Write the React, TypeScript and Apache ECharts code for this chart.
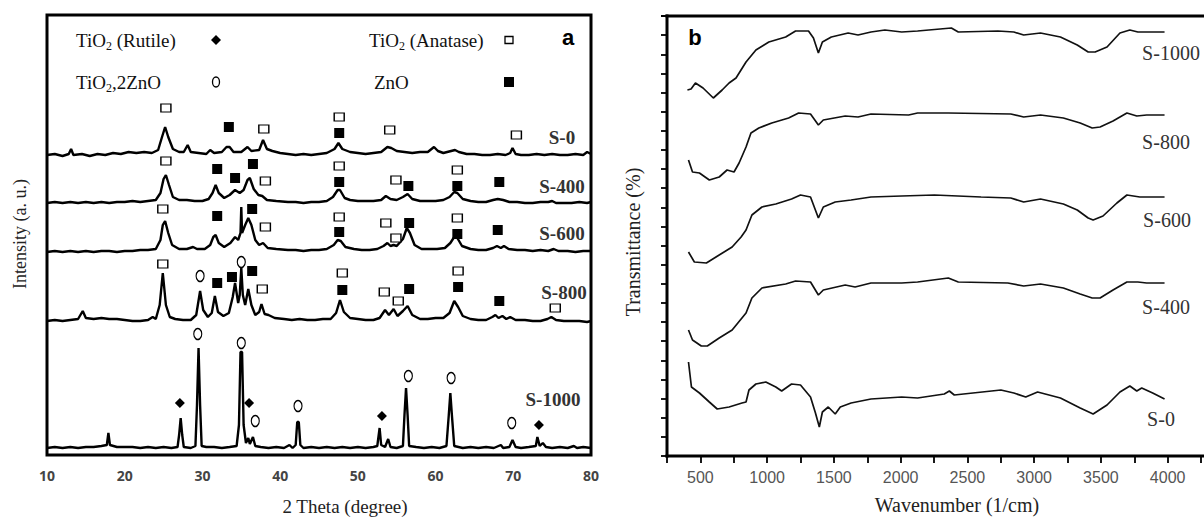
import React, { useEffect, useRef } from 'react';
import * as echarts from 'echarts';

// ---------- Panel a: XRD patterns (2θ, intensity a.u.) ----------
const xrdS0 = [[10,300],[11,301],[12,299],[12.8,301],[13.1,306],[13.4,300],[14.5,301],[15.5,299],[16.5,301],[17.5,300],[18.5,302],[19.5,301],[20.5,303],[21.5,302],[22.5,303],[23.5,302],[24.3,305],[24.8,318],[25.2,328],[25.6,318],[26.2,306],[27,303],[27.6,303],[28.1,310],[28.5,303],[29.5,302],[30.5,301],[31,305],[31.5,302],[32.5,303],[33.1,308],[33.5,308],[34,303],[35,303],[35.8,308],[36.3,304],[37.3,305],[37.8,315],[38.3,306],[39,304],[40,302],[41,301],[42,300],[43,301],[44,300],[45,301],[46,302],[47,306],[47.5,312],[48,306],[49,303],[50,302],[51,301],[52,302],[53,303],[53.8,308],[54.3,307],[55,304],[56,303],[57,302],[58,303],[59,303],[59.8,308],[60.3,304],[61,302],[62,304],[62.5,305],[63,303],[64,301],[65,301],[66,300],[67,300],[68,301],[69,300],[69.6,302],[69.9,307],[70.3,301],[71,300],[72,300],[73,301],[74,300],[75,301],[76,300],[77,300],[78,301],[79,300],[79.5,303],[80,301]];
const xrdS400 = [[10,252],[11,253],[12,252],[13,253],[14,252],[15,253],[16,252],[17,253],[18,252],[19,253],[20,253],[21,254],[22,253],[23,254],[24,255],[24.6,262],[25.0,276],[25.3,280],[25.7,270],[26.2,258],[27,255],[28,255],[29,254],[30,254],[30.8,256],[31.3,262],[31.7,270],[32.1,262],[32.8,257],[33.5,260],[34.2,265],[34.8,262],[35.3,265],[35.8,275],[36.1,277],[36.6,266],[37.2,260],[37.7,259],[38.3,255],[39.5,254],[41,253],[42,253],[43,252],[44,253],[45,253],[46,254],[46.8,258],[47.4,265],[47.7,265],[48.3,257],[49,255],[50,254],[51,254],[52,254],[53,255],[53.6,259],[54.2,256],[55,255],[55.8,258],[56.4,261],[57,256],[58,254],[59,254],[60,254],[61,255],[61.8,258],[62.4,263],[62.8,262],[63.5,256],[64.5,254],[65.5,253],[66.5,253],[67.4,255],[68,256],[68.7,255],[69.5,253],[70.5,253],[71.5,252],[72.5,252],[73.5,253],[74.5,253],[75,254],[75.5,252],[76.5,252],[77.5,252],[78.5,253],[79.5,252],[80,253]];
const xrdS600 = [[10,203],[11,204],[12,203],[13,204],[14,203],[15,204],[16,203],[17,204],[18,204],[19,203],[20,204],[21,204],[22,205],[23,205],[24,206],[24.6,215],[24.9,230],[25.2,234],[25.6,222],[26.1,210],[27,206],[28,206],[28.8,208],[29.3,206],[30.3,206],[31,210],[31.4,218],[31.7,220],[32.1,212],[32.8,208],[33.6,212],[34.2,218],[34.6,215],[34.9,222],[35.0,248],[35.1,222],[35.5,230],[35.9,237],[36.3,230],[36.8,215],[37.3,210],[37.8,212],[38.4,207],[39.5,206],[41,205],[42,205],[43,204],[44,205],[45,205],[46,206],[46.9,210],[47.4,215],[47.8,214],[48.4,208],[49.5,206],[50.5,205],[51.5,205],[52.5,206],[53.3,209],[53.8,212],[54.2,209],[54.6,210],[55,209],[55.8,216],[56.3,227],[56.7,222],[57.3,210],[58.2,206],[59.2,206],[60.2,206],[61.2,207],[61.9,212],[62.4,218],[62.8,217],[63.4,209],[64.5,206],[65.5,205],[66.5,205],[67.4,207],[67.9,209],[68.4,207],[68.8,209],[69.4,206],[70.5,205],[71.5,205],[72.5,204],[73.5,205],[74.5,204],[75.2,206],[75.8,204],[77,204],[78,203],[79,204],[80,204]];
const xrdS800 = [[10,134],[11,135],[12,134],[13,135],[14,136],[14.6,144],[15,137],[16,136],[17,137],[18,136],[19,136],[20,135],[21,134],[22,134],[23,135],[23.6,138],[24,136],[24.5,150],[24.9,182],[25.3,150],[25.8,138],[26.5,136],[27.5,135],[28.5,135],[29.2,140],[29.7,164],[30.1,145],[30.7,138],[31.2,142],[31.6,159],[32,143],[32.7,139],[33.4,142],[33.9,158],[34.2,172],[34.6,152],[34.8,160],[35.0,187],[35.2,160],[35.5,150],[35.9,166],[36.3,150],[36.8,140],[37.3,143],[37.6,151],[38,141],[38.5,140],[39.3,137],[40.5,136],[41.5,135],[42.5,136],[43.5,135],[44.5,135],[45.5,136],[46.5,136],[47.2,142],[47.7,155],[48.2,143],[49,137],[50,136],[51,135],[52,135],[52.8,137],[53.5,145],[54,140],[54.6,146],[55.1,139],[55.8,144],[56.4,149],[57,140],[58,136],[59,136],[60,137],[61,137],[61.8,142],[62.4,154],[62.9,148],[63.5,139],[64.5,136],[65.5,135],[66.5,135],[67.3,138],[67.7,140],[68.1,137],[68.6,139],[69.1,136],[69.6,138],[70.3,135],[71.5,135],[72.5,134],[73.5,134],[74.4,136],[74.9,138],[75.5,135],[76.5,134],[77.5,134],[78.5,134],[79.5,133],[80,134]];
const xrdS1000 = [[10,7],[11,8],[12,7],[13,8],[14,7],[15,8],[16,8],[17,9],[17.7,10],[17.9,22],[18.1,10],[19,8],[20,8],[21,8],[22,7],[23,8],[24,7],[25,8],[26,7],[26.8,8],[27.0,20],[27.2,37],[27.4,20],[27.6,8],[28.5,7],[29.1,9],[29.3,50],[29.5,107],[29.7,50],[29.9,9],[30.5,8],[31.5,8],[32.5,7],[33.5,8],[34.4,9],[34.7,30],[34.9,103],[35.1,103],[35.3,30],[35.6,12],[35.9,17],[36.1,11],[36.5,18],[36.8,9],[37.5,8],[38.5,7],[39.5,8],[40.5,7],[41.2,10],[41.6,7],[42.0,10],[42.2,33],[42.4,33],[42.6,10],[43,7],[44,8],[45,7],[46,8],[47,7],[48,8],[49,7],[50,8],[51,7],[52,8],[52.5,9],[52.8,27],[53.0,10],[53.5,8],[53.9,16],[54.2,8],[55,7],[55.8,9],[56.0,40],[56.2,67],[56.4,40],[56.6,9],[57.5,8],[58.5,7],[59.5,8],[60.5,7],[61.4,9],[61.7,40],[61.9,62],[62.1,40],[62.4,9],[63.5,7],[64.5,8],[65.5,7],[66.5,8],[67.5,7],[68.4,10],[68.7,7],[69.5,8],[69.9,15],[70.3,8],[71,7],[72,8],[72.9,9],[73.1,18],[73.4,9],[73.8,12],[74.2,8],[75,7],[76,8],[77,7],[77.8,9],[78.2,7],[79,8],[80,7]];

// phase markers (2θ, intensity a.u.)
const anataseMarks = [[25.3,347],[37.9,326],[47.6,338],[54.1,325],[70.4,320],[25.3,294],[38.1,274],[47.6,289],[54.9,275],[62.8,285],[24.9,246],[38.1,228],[47.6,238],[53.6,232],[54.9,217],[62.8,237],[24.9,191],[37.7,166],[48.0,182],[53.4,163],[55.2,154],[62.9,184],[75.4,147]];
const znoMarks = [[33.4,328],[47.6,322],[31.9,286],[34.2,277],[36.5,291],[47.6,273],[56.5,269],[62.8,269],[68.2,273],[31.9,239],[36.4,246],[47.6,223],[56.6,232],[62.8,221],[68.0,225],[31.9,172],[33.8,178],[36.4,184],[48.0,165],[56.6,166],[62.9,168],[68.2,154]];
const rutileMarks = [[27.1,52],[36.0,52],[53.1,39],[73.3,30]];
const zn2tio4Marks = [[29.7,179],[35.0,193],[29.4,121],[35.0,112],[36.8,34],[42.3,49],[56.5,79],[62.0,77],[69.8,32]];

const xrdTicks = [10, 20, 30, 40, 50, 60, 70, 80];
const xrdSamples = ['S-0', 'S-400', 'S-600', 'S-800', 'S-1000'];

// ---------- Panel b: FTIR spectra (wavenumber, transmittance a.u.) ----------
const ftirS1000 = [[403,366],[430,367],[463,373],[520,368],[597,358],[663,366],[715,373],[767,378],[842,394],[916,406],[1013,414],[1139,419],[1213,425],[1310,425],[1347,418],[1384,403],[1414,414],[1481,419],[1607,423],[1681,421],[1778,424],[1882,426],[2008,424],[2127,425],[2380,428],[2432,424],[2729,425],[2848,424],[2922,421],[3048,423],[3197,419],[3323,411],[3405,404],[3457,404],[3546,409],[3643,423],[3717,426],[3777,424],[3843,424],[3977,424]];
const ftirS800 = [[411,296],[441,284],[493,283],[567,276],[641,279],[700,286],[752,284],[790,293],[842,309],[879,323],[938,328],[1035,333],[1161,338],[1236,343],[1325,342],[1384,331],[1421,336],[1585,340],[1681,339],[1778,342],[2060,341],[2127,343],[2357,343],[2825,342],[2922,339],[3048,341],[3219,338],[3345,333],[3435,328],[3494,329],[3591,335],[3695,343],[3769,340],[3843,341],[3977,341]];
const ftirS600 = [[411,204],[455,194],[545,193],[641,201],[738,209],[805,219],[842,226],[886,241],[961,249],[1065,252],[1183,257],[1250,261],[1325,259],[1384,238],[1421,249],[1510,254],[1629,256],[1778,259],[2008,260],[2253,261],[2603,259],[2825,258],[2922,254],[3048,257],[3219,252],[3323,246],[3405,238],[3442,236],[3516,240],[3620,253],[3695,261],[3792,259],[3977,259]];
const ftirS400 = [[411,126],[441,116],[507,110],[552,110],[641,118],[738,126],[842,143],[886,158],[961,168],[1139,172],[1213,175],[1325,174],[1384,161],[1421,166],[1585,171],[1659,169],[1778,173],[2008,173],[2127,174],[2357,178],[2432,174],[2803,173],[2922,170],[3048,172],[3219,168],[3345,162],[3435,158],[3494,158],[3591,166],[3695,174],[3777,174],[3843,173],[3977,173]];
const ftirS0 = [[411,94],[433,69],[493,63],[567,54],[626,47],[715,49],[812,53],[842,54],[864,66],[916,72],[990,74],[1065,69],[1109,65],[1183,72],[1250,71],[1325,59],[1362,43],[1391,29],[1414,44],[1458,49],[1510,42],[1548,49],[1629,53],[1778,57],[2008,59],[2127,58],[2327,62],[2365,65],[2402,61],[2751,66],[2848,63],[2937,59],[3026,64],[3197,58],[3345,48],[3442,42],[3546,51],[3643,64],[3717,70],[3769,65],[3806,68],[3888,63],[3977,57]];

const SERIF = '"Liberation Serif", "DejaVu Serif", serif';
const SANS = '"Liberation Sans", Arial, sans-serif';

function sub(label: string, rest: string) {
  return `{t|${label}}{s|2}{t|${rest}}`;
}
const richSub = {
  t: { fontSize: 19, fontFamily: SERIF, fill: '#111', lineHeight: 24, verticalAlign: 'middle' },
  s: { fontSize: 12, fontFamily: SERIF, fill: '#111', lineHeight: 24, padding: [11, 0, 0, 0], verticalAlign: 'middle' },
};

export default function App() {
  const ref = useRef<HTMLDivElement>(null);
  useEffect(() => {
    const chart = echarts.init(ref.current!, null, { renderer: 'svg' });
    const lineStyleA = { color: '#000', width: 2.4 };
    const lineStyleB = { color: '#111', width: 1.7 };
    const xrdData = [xrdS0, xrdS400, xrdS600, xrdS800, xrdS1000];
    const ftirData = [ftirS0, ftirS400, ftirS600, ftirS800, ftirS1000];

    const leftLabels = [
      { t: 'S-0', x: 562, y: 137 },
      { t: 'S-400', x: 562, y: 186 },
      { t: 'S-600', x: 562, y: 233 },
      { t: 'S-800', x: 564, y: 292 },
      { t: 'S-1000', x: 553, y: 399 },
    ];
    const rightLabels = [
      { t: 'S-0', x: 1161, y: 419 },
      { t: 'S-400', x: 1166, y: 307 },
      { t: 'S-600', x: 1167, y: 220 },
      { t: 'S-800', x: 1166, y: 142 },
      { t: 'S-1000', x: 1171, y: 53 },
    ];
    const frameB = { stroke: '#000', lineWidth: 3 };

    const option: any = {
      animation: false,
      backgroundColor: '#fff',
      grid: [
        { left: 47, top: 15, width: 544, height: 440, show: true, borderColor: '#000', borderWidth: 3 },
        { left: 667, top: 16, width: 539, height: 440, show: false },
      ],
      xAxis: [
        {
          gridIndex: 0, type: 'value', min: 10, max: 80, interval: 10,
          axisLine: { show: false }, axisTick: { show: false }, splitLine: { show: false },
          axisLabel: { color: '#444', fontWeight: 'bold', fontSize: 14, fontFamily: '"Open Sans", sans-serif', margin: 13,
            formatter: (v: number) => (xrdTicks.includes(v) ? String(v) : '') },
        },
        {
          gridIndex: 1, type: 'value', min: 250, max: 4250, interval: 250,
          axisLine: { show: false },
          axisTick: { show: true, inside: false, length: 7, lineStyle: { color: '#000', width: 1.8 } },
          splitLine: { show: false },
          axisLabel: { color: '#555', fontSize: 16, fontFamily: SANS, margin: 13,
            formatter: (v: number) => (v % 500 === 0 ? String(v) : '') },
        },
      ],
      yAxis: [
        { gridIndex: 0, type: 'value', min: 0, max: 440, axisLine: { show: false }, axisTick: { show: false }, axisLabel: { show: false }, splitLine: { show: false } },
        {
          gridIndex: 1, type: 'value', min: 0, max: 440, interval: 440 / 23,
          axisLine: { show: false },
          axisTick: { show: true, inside: false, length: 6, lineStyle: { color: '#000', width: 1.8 } },
          axisLabel: { show: false }, splitLine: { show: false },
        },
      ],
      series: [
        ...xrdData.map((d, i) => ({
          name: xrdSamples[i], type: 'line', xAxisIndex: 0, yAxisIndex: 0, data: d,
          showSymbol: false, symbol: 'none', lineStyle: lineStyleA, silent: true,
        })),
        ...ftirData.map((d, i) => ({
          name: 'ftir-' + xrdSamples[i], type: 'line', xAxisIndex: 1, yAxisIndex: 1, data: d,
          showSymbol: false, symbol: 'none', lineStyle: lineStyleB, silent: true,
        })),
        { type: 'scatter', xAxisIndex: 0, yAxisIndex: 0, data: anataseMarks, symbol: 'rect', symbolSize: [10, 8],
          itemStyle: { color: '#fff', borderColor: '#000', borderWidth: 1.3, opacity: 1 }, z: 5, silent: true },
        { type: 'scatter', xAxisIndex: 0, yAxisIndex: 0, data: znoMarks, symbol: 'rect', symbolSize: [10, 10],
          itemStyle: { color: '#000', opacity: 1 }, z: 5, silent: true },
        { type: 'scatter', xAxisIndex: 0, yAxisIndex: 0, data: rutileMarks, symbol: 'diamond', symbolSize: [10, 10],
          itemStyle: { color: '#000', opacity: 1 }, z: 5, silent: true },
        { type: 'scatter', xAxisIndex: 0, yAxisIndex: 0, data: zn2tio4Marks, symbol: 'circle', symbolSize: [8, 11],
          itemStyle: { color: '#fff', borderColor: '#000', borderWidth: 1.3, opacity: 1 }, z: 5, silent: true },
      ],
      graphic: [
        // frame of panel b (top, left, bottom)
        { type: 'line', shape: { x1: 665.5, y1: 16, x2: 1204, y2: 16 }, style: frameB, z: 10 },
        { type: 'line', shape: { x1: 667, y1: 14.5, x2: 667, y2: 457.5 }, style: frameB, z: 10 },
        { type: 'line', shape: { x1: 665.5, y1: 456, x2: 1204, y2: 456 }, style: frameB, z: 10 },
        // legend of panel a
        { type: 'text', x: 76, y: 40, style: { text: sub('TiO', ' (Rutile)'), rich: richSub, verticalAlign: 'middle' } },
        { type: 'text', x: 76, y: 82, style: { text: sub('TiO', ',2ZnO'), rich: richSub, verticalAlign: 'middle' } },
        { type: 'text', x: 369, y: 40, style: { text: sub('TiO', ' (Anatase)'), rich: richSub, verticalAlign: 'middle' } },
        { type: 'text', x: 374, y: 82, style: { text: 'ZnO', font: `19px ${SERIF}`, fill: '#111', verticalAlign: 'middle' } },
        { type: 'polygon', shape: { points: [[216, 35], [221, 40], [216, 45], [211, 40]] }, style: { fill: '#000' } },
        { type: 'ellipse', shape: { cx: 216, cy: 82, rx: 3.5, ry: 5 }, style: { fill: '#fff', stroke: '#000', lineWidth: 1.3 } },
        { type: 'rect', shape: { x: 505, y: 36.5, width: 8, height: 7 }, style: { fill: '#fff', stroke: '#000', lineWidth: 1.3 } },
        { type: 'rect', shape: { x: 504, y: 77, width: 10, height: 10 }, style: { fill: '#000' } },
        // panel letters
        { type: 'text', x: 568, y: 37, style: { text: 'a', font: `bold 22px ${SANS}`, fill: '#000', align: 'center', verticalAlign: 'middle' } },
        { type: 'text', x: 695, y: 37, style: { text: 'b', font: `bold 22px ${SANS}`, fill: '#000', align: 'center', verticalAlign: 'middle' } },
        // axis titles
        { type: 'text', x: 345, y: 506, style: { text: '2 Theta (degree)', font: `19px ${SERIF}`, fill: '#222', align: 'center', verticalAlign: 'middle' } },
        { type: 'text', x: 957, y: 505, style: { text: 'Wavenumber (1/cm)', font: `20px ${SERIF}`, fill: '#222', align: 'center', verticalAlign: 'middle' } },
        { type: 'text', x: 20, y: 234, rotation: Math.PI / 2, style: { text: 'Intensity (a. u.)', font: `18px ${SERIF}`, fill: '#222', align: 'center', verticalAlign: 'middle' } },
        { type: 'text', x: 633, y: 242, rotation: Math.PI / 2, style: { text: 'Transmittance (%)', font: `20px ${SERIF}`, fill: '#222', align: 'center', verticalAlign: 'middle' } },
        // sample labels
        ...leftLabels.map((l) => ({ type: 'text', x: l.x, y: l.y, style: { text: l.t, font: `bold 19px ${SERIF}`, fill: '#333', align: 'center', verticalAlign: 'middle' } })),
        ...rightLabels.map((l) => ({ type: 'text', x: l.x, y: l.y, style: { text: l.t, font: `20px ${SERIF}`, fill: '#333', align: 'center', verticalAlign: 'middle' } })),
      ],
    };
    chart.setOption(option);
    return () => chart.dispose();
  }, []);
  return <div ref={ref} style={{ position: 'fixed', left: 0, top: 0, width: 1204, height: 520, background: '#fff' }} />;
}
